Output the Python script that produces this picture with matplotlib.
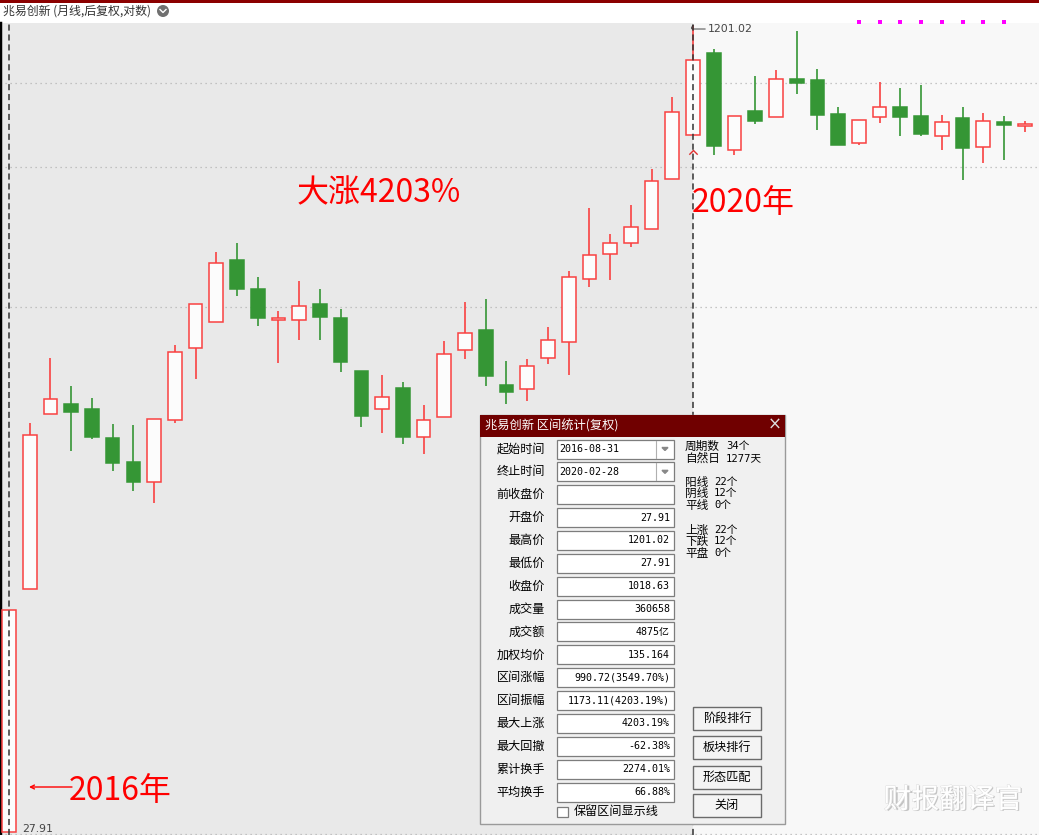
import matplotlib
matplotlib.use('Agg')
import matplotlib.pyplot as plt
from matplotlib.patches import Rectangle, Circle
import matplotlib.patheffects as pe
from matplotlib.ticker import NullLocator

plt.rcParams['font.family'] = ['Noto Sans CJK SC', 'DejaVu Sans']

# ---------------- data (monthly candles, 后复权, from 2016-08) ----------------
chart_title = '兆易创新 (月线,后复权,对数)'
dialog_title = '兆易创新 区间统计(复权)'

opens = [27.91, 86.7, 196.0, 205.3, 200.5, 175.2, 156.6, 142.7, 190.5, 266.5,
         300.8, 401.6, 350.9, 303.6, 303.6, 327.1, 306.4, 239.4, 200.5, 221.1,
         176.0, 193.2, 264.0, 289.8, 224.3, 220.1, 254.3, 274.1, 367.6, 413.0,
         434.7, 463.9, 586.0, 719.4, 1054.0, 670.8, 804.3, 782.2, 933.7, 929.4,
         793.1, 692.9, 782.2, 819.5, 785.8, 715.8, 778.4, 680.0, 764.0, 749.9]
highs = [78.6, 187.8, 254.3, 223.2, 211.1, 187.0, 186.1, 191.4, 270.2, 327.1,
         416.9, 434.7, 371.0, 316.7, 364.2, 350.9, 319.6, 239.4, 235.0, 227.4,
         204.3, 275.3, 330.2, 334.8, 250.8, 253.2, 293.9, 381.5, 511.9, 453.2,
         518.9, 613.8, 858.7, 1201.02, 1073.7, 785.8, 946.9, 973.6, 1168.0, 978.1,
         819.5, 771.3, 920.8, 895.4, 907.8, 789.5, 819.5, 797.0, 785.8, 767.7]
lows = [27.91, 86.7, 196.0, 164.9, 174.4, 150.2, 136.8, 129.4, 187.8, 230.6,
        300.8, 339.6, 295.2, 248.5, 276.5, 276.5, 238.3, 184.4, 179.3, 170.3,
        162.6, 193.2, 253.2, 223.2, 205.3, 208.2, 247.4, 235.0, 354.1, 365.9,
        426.7, 463.9, 586.0, 719.4, 655.2, 655.2, 757.0, 782.2, 870.7, 736.3,
        686.6, 686.6, 760.5, 715.8, 715.8, 670.8, 583.2, 631.0, 640.0, 729.5]
closes = [78.6, 177.6, 210.1, 197.8, 176.0, 155.9, 142.7, 191.4, 261.6, 327.1,
          396.0, 350.9, 306.4, 306.4, 324.1, 307.8, 249.6, 194.1, 212.1, 176.0,
          190.5, 259.1, 285.8, 233.9, 217.1, 245.0, 276.5, 371.0, 411.1, 434.7,
          468.3, 580.5, 800.6, 1018.63, 683.4, 785.8, 767.7, 933.7, 916.5, 789.5,
          686.6, 771.3, 819.5, 782.2, 722.6, 764.0, 676.9, 767.7, 753.5, 757.0]

interval_start = 0
interval_end = 33
interval_high = 1201.02
interval_low = 27.91
end_marker_price = 671
grid_levels = [916.5, 619.6, 322.6, 27.7]
marker_idx = [41, 42, 43, 44, 45, 46, 47, 48]
marker_price = 1216

stat_labels = ['起始时间', '终止时间', '前收盘价', '开盘价', '最高价', '最低价', '收盘价',
               '成交量', '成交额', '加权均价', '区间涨幅', '区间振幅', '最大上涨',
               '最大回撤', '累计换手', '平均换手']
stat_values = ['2016-08-31', '2020-02-28', '', '27.91', '1201.02', '27.91', '1018.63',
               '360658', '4875亿', '135.164', '990.72(3549.70%)', '1173.11(4203.19%)',
               '4203.19%', '-62.38%', '2274.01%', '66.88%']
count_labels = ['周期数', '自然日', '阳线', '阴线', '平线', '上涨', '下跌', '平盘']
count_values = ['34个', '1277天', '22个', '12个', '0个', '22个', '12个', '0个']
button_labels = ['阶段排行', '板块排行', '形态匹配', '关闭']

note_gain = '大涨4203%'
note_end = '2020年'
note_start = '2016年'
watermark = '财报翻译官'

# ---------------- figure ----------------
W, H = 1039, 835
fig = plt.figure(figsize=(W / 100, H / 100), dpi=100)
fig.patch.set_facecolor('white')

ax = fig.add_axes([0, 0, 1, 812 / H])
ax.set_facecolor('#f8f8f8')
ax.set_yscale('log')
ax.set_xlim(-0.434, 49.69)
ax.set_ylim(27.54, 1212.3)
ax.yaxis.set_major_locator(NullLocator())
ax.yaxis.set_minor_locator(NullLocator())
ax.xaxis.set_major_locator(NullLocator())
ax.xaxis.set_minor_locator(NullLocator())
for s in ['top', 'right', 'bottom']:
    ax.spines[s].set_visible(False)
ax.spines['left'].set_color('black')
ax.spines['left'].set_linewidth(2.5)

ax.axvspan(-0.434, interval_end, color='#e9e9e9', zorder=0, lw=0)
for g in grid_levels:
    ax.axhline(g, color='#b5b5b5', ls=(0, (1, 3)), lw=0.9, zorder=1)

RED = '#f94141'
GREEN = '#359635'
idx = list(range(len(opens)))
for i, o, h, l, c in zip(idx, opens, highs, lows, closes):
    up = c >= o
    col = RED if up else GREEN
    ax.vlines(i, l, h, color=col, lw=1.2, zorder=2)
    lo, hi = min(o, c), max(o, c)
    ax.bar(i, hi - lo, bottom=lo, width=0.66, facecolor='#fcfcfc' if up else GREEN,
           edgecolor=col, lw=1.1, zorder=3)

for i in (interval_start, interval_end):
    ax.axvline(i, color='#333333', ls=(0, (4, 2.5)), lw=1.1, zorder=5)

ax.scatter(marker_idx, [marker_price] * len(marker_idx), marker='s', s=5,
           color='#ff00ff', zorder=6, clip_on=False, lw=0)

ax.annotate(f'{interval_high:.2f}', xy=(interval_end, interval_high),
            xytext=(15, -4), textcoords='offset pixels', va='center', ha='left',
            fontsize=7.8, color='#444444', family='DejaVu Sans',
            arrowprops=dict(arrowstyle='-', color='#444444', lw=0.7,
                            shrinkA=0, shrinkB=0,
                            connectionstyle='angle,angleA=0,angleB=60,rad=2'))
ax.annotate(f'{interval_low:.2f}', xy=(interval_start, interval_low),
            xytext=(13, 3), textcoords='offset pixels', va='center', ha='left',
            fontsize=7.8, color='#444444', family='DejaVu Sans')
ax.plot([interval_end], [end_marker_price], marker=[(-1, -1), (0, 0), (1, -1)],
        ms=6, mfc='none', mec='#e03030', mew=1.0, zorder=6)

# ---------------- overlay (pixel coordinates) ----------------
ov = fig.add_axes([0, 0, 1, 1], zorder=10)
ov.set_xlim(0, W)
ov.set_ylim(H, 0)
ov.axis('off')
ov.patch.set_alpha(0)

ov.add_patch(Rectangle((0, 0), W, 2.5, color='#8b0000', lw=0))
ov.text(3, 11.5, chart_title, fontsize=8.6, color='#333333', va='center', ha='left')
ov.add_patch(Circle((163, 11), 6, color='#707070', lw=0))
ov.plot([160, 163, 166], [9.5, 12.5, 9.5], color='white', lw=1.0)

# red notes
ov.text(297, 193, note_gain, fontsize=23, color='#ff0000', va='center', ha='left')
ov.text(692, 203, note_end, fontsize=23, color='#ff0000', va='center', ha='left')
ov.text(69, 791, note_start, fontsize=23, color='#ff0000', va='center', ha='left')
ov.annotate('', xy=(29, 787), xytext=(72, 787),
            arrowprops=dict(arrowstyle='->', color='#ff0000', lw=1.0,
                            shrinkA=0, shrinkB=0, mutation_scale=7))

# watermark (embossed white text)
ov.text(954, 801, watermark, fontsize=20, color='#c4c4c4', ha='center', va='center')
ov.text(953, 800, watermark, fontsize=20, color='white', ha='center', va='center',
        path_effects=[pe.withStroke(linewidth=0.6, foreground='#dadada')])

# dialog
dx0, dx1, dy0, dy1 = 480, 785, 415, 824
ov.add_patch(Rectangle((dx0, dy0), dx1 - dx0, dy1 - dy0, fc='#f0f0f0', ec='#9a9a9a', lw=1))
ov.add_patch(Rectangle((dx0, dy0), dx1 - dx0, 22, fc='#700000', ec='none'))
ov.text(485, 426, dialog_title, color='white', fontsize=8.8, va='center', ha='left')
ov.text(775, 425, '×', color='#dcdcdc', fontsize=12, va='center', ha='center',
        family='DejaVu Sans')

mono = ['DejaVu Sans Mono', 'Noto Sans CJK SC']
for r, (lab, val) in enumerate(zip(stat_labels, stat_values)):
    yc = 449 + 22.87 * r
    ov.text(545, yc, lab, fontsize=8.7, color='black', ha='right', va='center')
    ov.add_patch(Rectangle((557, yc - 9.5), 117, 19, fc='white', ec='#7d7d7d', lw=0.9))
    if r < 2:
        ov.plot([656, 656], [yc - 8.5, yc + 8.5], color='#b0b0b0', lw=0.8)
        ov.fill([662, 668, 665], [yc - 1.5, yc - 1.5, yc + 1.5], color='#888888')
        ov.text(559, yc, val, fontsize=7.2, family=mono, ha='left', va='center')
    elif val:
        ov.text(670, yc, val, fontsize=7.2, family=mono, ha='right', va='center')

count_y = [446, 458, 482, 493, 505, 530, 541, 553]
for k, (lab, val, yc) in enumerate(zip(count_labels, count_values, count_y)):
    ov.text(685, yc, lab, fontsize=8.4, ha='left', va='center', color='black')
    ov.text(726 if k < 2 else 714, yc, val, fontsize=7.6, family=mono,
            ha='left', va='center', color='black')

btn_y = [707, 736, 766, 794]
for lab, by in zip(button_labels, btn_y):
    ov.add_patch(Rectangle((693, by), 68, 23, fc='#f4f4f4', ec='#6b6b6b', lw=1))
    ov.text(727, by + 11.5, lab, fontsize=8.7, ha='center', va='center', color='black')

ov.add_patch(Rectangle((557, 807), 11, 10, fc='white', ec='#7d7d7d', lw=0.9))
ov.text(574, 812, '保留区间显示线', fontsize=8.7, ha='left', va='center', color='black')

fig.savefig('out.png', dpi=100, facecolor='white')
